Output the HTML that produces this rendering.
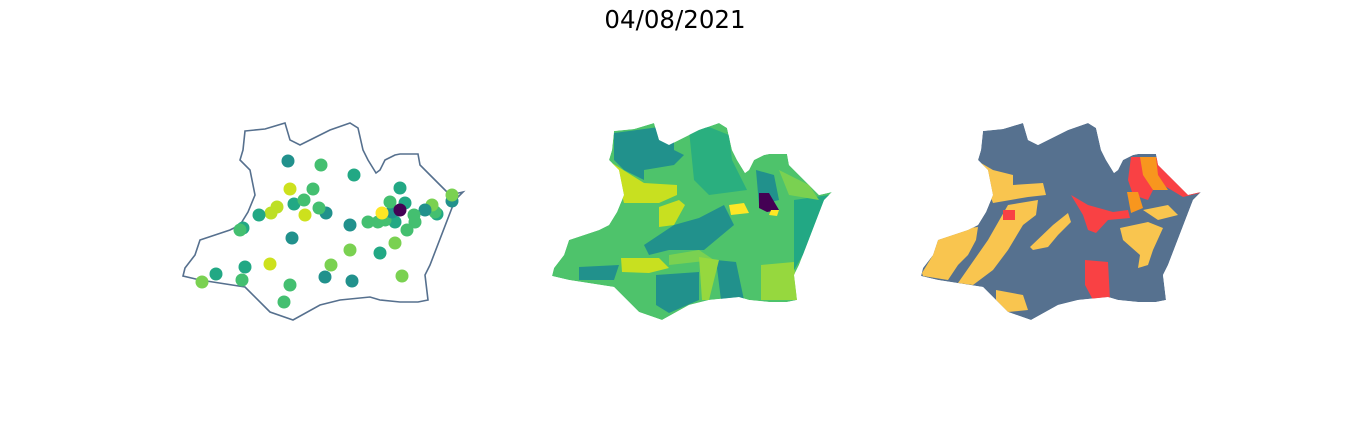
<!DOCTYPE html>
<html><head><meta charset="utf-8"><style>
html,body{margin:0;padding:0;background:#fff;}
svg{display:block;}
</style></head><body>
<svg id="fig" width="1350" height="444" viewBox="0 0 1350 444" xmlns="http://www.w3.org/2000/svg">
<rect width="1350" height="444" fill="#fff"/>
<text x="675" y="28" text-anchor="middle" font-family="DejaVu Sans, Liberation Sans, sans-serif" font-size="24.5" fill="#000">04/08/2021</text>
<defs>
<polygon id="outline" points="245,131 265,129 285,123 290,140 300,145 310,140 330,130 350,123 358,128 363,150 368,160 376,173 380,170 385,160 395,155 400,154 418,154 420,165 430,175 440,185 450,195 463,192 455,200 430,265 425,275 428,300 418,302 400,302 380,300 370,297 340,300 320,305 293,320 270,312 245,287 200,280 183,276 185,268 195,255 200,240 230,230 240,225 248,212 255,195 250,170 240,160 243,150"/>
<clipPath id="clip"><use href="#outline"/></clipPath>
</defs>
<g id="map1">
<use href="#outline" fill="#fff" stroke="#56708e" stroke-width="1.6"/>
<g id="dots"></g>
</g>
<g transform="translate(369,0)">
<g clip-path="url(#clip)">
<use href="#outline" fill="#4ec36b"/>
<polygon fill="#21918c" points="245,133 290,127 305,140 305,150 315,155 305,165 275,170 275,180 255,170 245,160 245,150"/>
<polygon fill="#2aaf7f" points="320,130 340,127 360,135 363,160 378,190 340,195 325,180"/>
<polygon fill="#c8e020" points="243,163 275,183 308,185 308,195 290,203 255,203 250,185"/>
<polygon fill="#21918c" points="275,245 305,225 330,218 355,205 365,225 335,250 300,250 280,255"/>
<polygon fill="#c8e020" points="290,207 310,200 316,205 305,225 290,227"/>
<polygon fill="#7ad151" points="300,255 330,250 345,260 300,265"/>
<polygon fill="#c8e020" points="252,258 290,258 300,268 280,273 253,272"/>
<polygon fill="#21918c" points="287,275 330,272 330,300 300,313 287,305"/>
<polygon fill="#21918c" points="347,260 367,262 375,300 352,300"/>
<polygon fill="#96d83e" points="392,265 425,262 428,300 392,300"/>
<polygon fill="#96d83e" points="330,257 350,260 340,300 333,300"/>
<polygon fill="#21918c" points="387,170 405,175 410,200 390,205"/>
<polygon fill="#22a884" points="425,200 460,195 440,245 425,270"/>
<polygon fill="#21918c" points="210,267 250,265 245,280 210,280"/>
<polygon fill="#7ad151" points="410,170 440,185 450,200 420,195"/>
<polygon fill="#fde725" points="360,205 375,203 380,213 362,215"/>
<polygon fill="#440154" points="390,193 400,193 410,210 398,212 390,208"/>
<polygon fill="#fde725" points="402,210 410,210 408,216 400,215"/>
</g>
</g>
<g transform="translate(738,0)">
<g clip-path="url(#clip)">
<use href="#outline" fill="#56718f"/>
<polygon fill="#f9c54f" points="243,163 255,170 275,175 275,185 305,183 308,195 290,197 255,203 250,190"/>
<polygon fill="#f9c54f" points="184,273 195,255 200,240 215,230 240,227 238,240 230,255 220,265 210,280 185,276"/>
<polygon fill="#f9c54f" points="220,283 250,240 270,205 300,200 298,215 285,225 270,250 255,270 235,285"/>
<polygon fill="#f9c54f" points="292,247 315,225 330,213 333,222 320,235 310,247 295,250"/>
<polygon fill="#f9c54f" points="258,290 285,295 290,310 270,312 258,300"/>
<polygon fill="#f9c54f" points="382,228 410,222 425,228 415,250 410,265 400,268 402,255 385,240"/>
<polygon fill="#f9c54f" points="405,210 430,205 440,215 420,220"/>
<polygon fill="#f94144" points="347,260 370,262 372,300 355,300 347,285"/>
<polygon fill="#f94144" points="333,195 350,205 375,212 390,210 392,218 370,220 358,233 350,230 345,215"/>
<polygon fill="#f94144" points="393,157 405,157 415,190 410,200 395,195 390,180"/>
<polygon fill="#f94144" points="418,157 430,175 462,193 445,197 425,185 415,170"/>
<polygon fill="#f8961e" points="402,157 418,157 420,175 430,190 415,190 405,175"/>
<polygon fill="#f8961e" points="389,192 400,192 405,208 393,213"/>
<polygon fill="#f94144" points="265,210 277,210 277,220 265,220"/>
</g>
</g>
</svg>
<script>
var dotX=[288,321,354,290,313,304,294,305,319,326,259,271,277,240,243,292,350,380,395,400,390,405,382,392,385,368,378,395,407,415,414,425,432,435,437,452,452,350,216,245,242,202,270,290,284,325,331,352,402,400];
var dotY=[161,165,175,189,189,200,204,215,208,213,215,213,207,230,228,238,250,253,243,188,202,203,213,212,220,222,222,222,230,222,215,210,205,212,214,195,201,225,274,267,280,282,264,285,302,277,265,281,276,210];
var dotV=[3,5,4,8,5,5,4,8,5,3,4,7,7,5,4,3,6,4,6,4,5,4,9,3,5,5,5,4,5,5,5,3,6,5,4,6,3,3,4,4,5,6,8,5,5,3,6,3,6,0];
var pal=['#440154','#414487','#2a788e','#21918c','#22a884','#44bf70','#7ad151','#bddf26','#cde11d','#fde725'];
var dg=document.getElementById('dots');
for(var i=0;i<dotX.length;i++){
 var c=document.createElementNS('http://www.w3.org/2000/svg','circle');
 c.setAttribute('cx',dotX[i]);c.setAttribute('cy',dotY[i]);c.setAttribute('r','6.5');
 c.setAttribute('fill',pal[dotV[i]]);
 
 
 if(dotV[i]===0){dg.appendChild(c);}else{dg.insertBefore(c,dg.firstChild);}
}
</script>
</body></html>
